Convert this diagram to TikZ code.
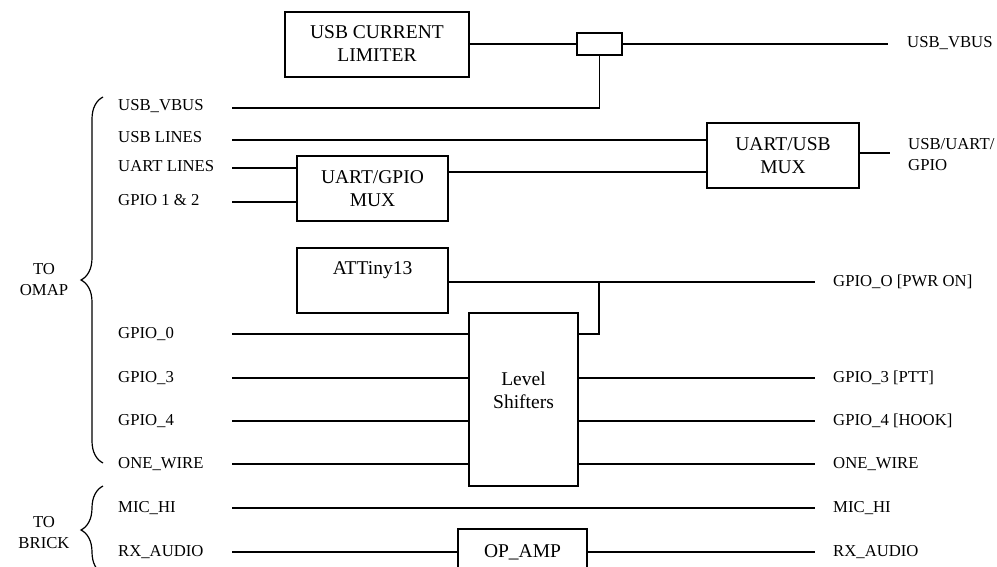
\documentclass[tikz,border=0pt]{standalone}
\usepackage{fontspec}
\setmainfont{Liberation Serif}
\usetikzlibrary{decorations.pathreplacing}
\begin{document}
\begin{tikzpicture}[x=1pt,y=-1pt,
  every node/.style={font=\fontsize{16.7}{21}\selectfont, inner sep=0pt},
  blk/.style={draw, line width=1.2pt, rectangle},
  boxtext/.style={font=\fontsize{19.5}{23}\selectfont, align=center},
  wire/.style={line width=1.2pt},
  lbl/.style={anchor=base west},
  bracestyle/.style={line width=1.2pt, decorate, decoration={brace, amplitude=22pt}}]
\clip (0,0) rectangle (997,567);
\useasboundingbox (0,0) rectangle (997,567);
% blocks
\node[blk, minimum width=184, minimum height=65] (lim) at (377,44.5) {};
\node[boxtext] (limtxt) at (377,43.5) {USB CURRENT\\LIMITER};
\node[blk, minimum width=45, minimum height=22] (sb) at (599.5,44) {};
\node[blk, minimum width=151, minimum height=65] (ugm) at (372.5,188.5) {};
\node[boxtext] (ugmtxt) at (372.5,189) {UART/GPIO\\MUX};
\node[blk, minimum width=152, minimum height=65] (uum) at (783,155.5) {};
\node[boxtext] (uumtxt) at (783,156) {UART/USB\\MUX};
\node[blk, minimum width=151, minimum height=65] (att) at (372.5,280.5) {};
\node[boxtext] (atttxt) at (372.5,270) {ATTiny13};
\node[blk, minimum width=109, minimum height=173] (ls) at (523.5,399.5) {};
\node[boxtext] (lstxt) at (523.5,390) {Level\\Shifters};
\node[blk, minimum width=129, minimum height=71] (op) at (522.5,564.5) {};
\node[boxtext] (optxt) at (522.5,552) {OP\_AMP};
% left labels
\node[lbl] (lvbus) at (118,111) {USB\_VBUS};
\node[lbl] (lusb) at (118,143) {USB LINES};
\node[lbl] (luart) at (118,172) {UART LINES};
\node[lbl] (lg12) at (118,206) {GPIO 1 \& 2};
\node[lbl] (lg0) at (118,338) {GPIO\_0};
\node[lbl] (lg3) at (118,382) {GPIO\_3};
\node[lbl] (lg4) at (118,425) {GPIO\_4};
\node[lbl] (low) at (118,468) {ONE\_WIRE};
\node[lbl] (lmic) at (118,512) {MIC\_HI};
\node[lbl] (lrx) at (118,556) {RX\_AUDIO};
% left line starts
\coordinate (svbus) at (232,108);
\coordinate (susb) at (232,140);
\coordinate (suart) at (232,168);
\coordinate (sg12) at (232,202);
\coordinate (sg0) at (232,334);
\coordinate (sg3) at (232,378);
\coordinate (sg4) at (232,421);
\coordinate (sow) at (232,464);
\coordinate (smic) at (232,508);
\coordinate (srx) at (232,552);
% right ends
\coordinate (evbus) at (888,44);
\coordinate (emux) at (890,153);
\coordinate (epwr) at (815,282);
\coordinate (eg3) at (815,378);
\coordinate (eg4) at (815,421);
\coordinate (eow) at (815,464);
\coordinate (emic) at (815,508);
\coordinate (erx) at (815,552);
\coordinate (jn) at (599,282);
% right labels
\node[lbl] (rvbus) at (907,48) {USB\_VBUS};
\node[anchor=west, align=left] (rmux) at (908,155) {USB/UART/\\GPIO};
\node[lbl] (rpwr) at (833,286) {GPIO\_O [PWR ON]};
\node[lbl] (rg3) at (833,382) {GPIO\_3 [PTT]};
\node[lbl] (rg4) at (833,425) {GPIO\_4 [HOOK]};
\node[lbl] (row) at (833,468) {ONE\_WIRE};
\node[lbl] (rmic) at (833,512) {MIC\_HI};
\node[lbl] (rrx) at (833,556) {RX\_AUDIO};
% group labels
\node[align=center] (omap) at (44,280) {TO\\OMAP};
\node[align=center] (brick) at (44,533) {TO\\BRICK};
\draw[bracestyle] (103,463) -- (103,97);
\draw[bracestyle] (103,574) -- (103,486);
% wires
\draw[wire] (lim.east |- sb.west) -- (sb.west);
\draw[wire] (sb.east) -- (evbus);
\draw[wire] (svbus) -| (sb.south);
\draw[wire] (susb) -- (susb -| uum.west);
\draw[wire] (suart) -- (suart -| ugm.west);
\draw[wire] (sg12) -- (sg12 -| ugm.west);
\draw[wire] (ugm.east |- 0,172) -- (uum.west |- 0,172);
\draw[wire] (uum.east |- emux) -- (emux);
\draw[wire] (att.east |- epwr) -- (epwr);
\draw[wire] (ls.east |- sg0) -| (jn);
\draw[wire] (sg0) -- (sg0 -| ls.west);
\draw[wire] (sg3) -- (sg3 -| ls.west);
\draw[wire] (sg4) -- (sg4 -| ls.west);
\draw[wire] (sow) -- (sow -| ls.west);
\draw[wire] (ls.east |- eg3) -- (eg3);
\draw[wire] (ls.east |- eg4) -- (eg4);
\draw[wire] (ls.east |- eow) -- (eow);
\draw[wire] (smic) -- (emic);
\draw[wire] (srx) -- (srx -| op.west);
\draw[wire] (op.east |- erx) -- (erx);
\end{tikzpicture}
\end{document}
